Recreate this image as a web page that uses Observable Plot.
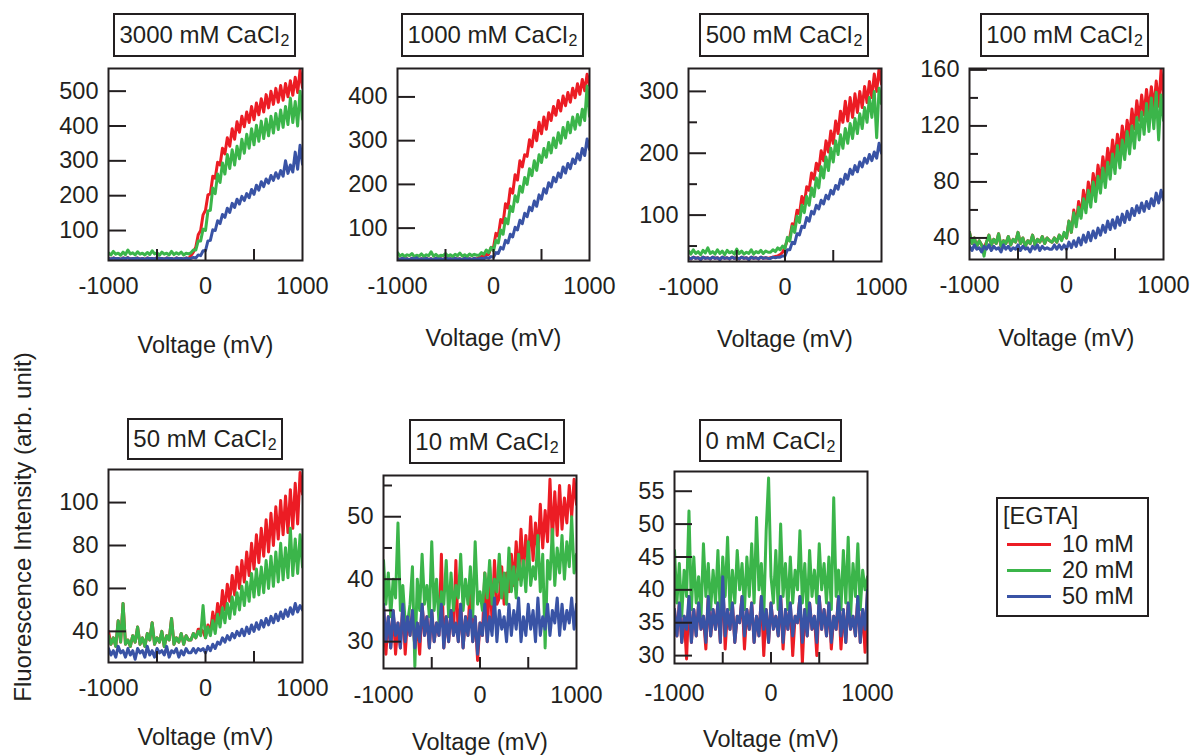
<!DOCTYPE html>
<html><head><meta charset="utf-8">
<script src="https://cdn.jsdelivr.net/npm/d3@7"></script>
<script src="https://cdn.jsdelivr.net/npm/@observablehq/plot@0.6"></script>
<style>
html,body{margin:0;padding:0;background:#fff;}
#fig{position:relative;width:1190px;height:756px;overflow:hidden;font-family:"Liberation Sans",Arial,sans-serif;color:#231f20;}
.title{position:absolute;box-sizing:border-box;border:2px solid #231f20;display:flex;align-items:center;justify-content:center;font-size:24px;line-height:1;white-space:nowrap;background:#fff;}
.title .sub{font-size:16px;position:relative;top:6px;margin-left:1px;}
.panel{position:absolute;}
.panel svg{max-width:none;display:block;}
#ylab{position:absolute;left:23px;top:527px;transform:translate(-50%,-50%) rotate(-90deg);font-size:24px;line-height:1;white-space:nowrap;}
#legend{position:absolute;box-sizing:border-box;border:2px solid #231f20;}
.lgtxt{position:absolute;font-size:23.5px;line-height:1;white-space:nowrap;}
.lgsw{position:absolute;height:2.5px;width:44px;}
</style>
</head><body>
<div id="fig"></div>
<script>
// ---------- data ----------
const voltage = [-1000,-975,-950,-925,-900,-875,-850,-825,-800,-775,-750,-725,-700,-675,-650,-625,-600,-575,-550,-525,-500,-475,-450,-425,-400,-375,-350,-325,-300,-275,-250,-225,-200,-175,-150,-125,-100,-75,-50,-25,0,25,50,75,100,125,150,175,200,225,250,275,300,325,350,375,400,425,450,475,500,525,550,575,600,625,650,675,700,725,750,775,800,825,850,875,900,925,950,975,1000];

const caConc = [3000, 1000, 500, 100, 50, 10, 0];
const egtaLabels = ["10 mM", "20 mM", "50 mM"];
const egtaColors = ["#ec1c24", "#3bb54a", "#3953a5"];
const xTickLabels = [-1000, 0, 1000];
const xTickMarks = [-500, 0, 500];

const yTicks3000 = [100, 200, 300, 400, 500];
const yTicks1000 = [100, 200, 300, 400];
const yTicks500 = [100, 200, 300], yMinor500 = [50, 150, 250];
const yTicks100 = [40, 80, 120, 160], yMinor100 = [60, 100, 140];
const yTicks50 = [40, 60, 80, 100];
const yTicks10 = [30, 40, 50], yMinor10 = [35, 45, 55];
const yTicks0 = [30, 35, 40, 45, 50, 55];

const ca3000_egta10 = [20,18,21,19,20,17,21,19,22,18,20,19,21,18,20,17,21,19,20,18,22,19,20,18,21,19,20,17,21,19,20,18,21,19,28,38,52,88,100,145,158,202,205,256,250,296,288,336,320,366,342,392,362,412,382,428,398,440,410,456,418,466,432,478,440,490,452,500,462,508,468,516,474,522,484,530,488,540,496,560,510];
const ca3000_egta20 = [36,30,40,32,35,29,38,31,44,33,36,30,39,32,35,30,37,31,42,33,36,29,38,32,35,30,40,31,36,32,38,30,35,33,36,44,44,70,70,104,100,156,158,222,206,262,238,294,262,318,278,332,288,342,306,362,322,376,336,392,346,402,356,414,364,420,372,428,380,436,390,446,396,456,404,480,410,470,400,500,420];
const ca3000_egta50 = [20,18,21,19,20,17,21,19,22,18,20,19,21,18,20,17,21,19,20,18,22,19,20,18,21,19,20,17,21,19,20,18,21,19,20,23,21,30,28,42,42,70,72,102,100,128,120,146,138,164,152,178,166,190,176,198,186,206,194,218,204,230,216,240,226,248,236,258,244,266,250,272,256,300,264,288,268,325,276,345,290];

const ca1000_egta10 = [30,28,31,29,30,27,31,29,32,28,30,29,31,28,30,27,31,29,30,28,32,29,30,28,31,29,30,27,31,29,30,28,31,29,33,35,36,40,40,56,56,88,82,120,112,156,146,190,180,222,210,254,240,268,264,302,286,324,300,342,316,354,326,364,346,378,358,392,368,402,380,410,388,420,398,430,406,440,414,452,426];
const ca1000_egta20 = [44,36,40,35,39,37,42,35,38,36,41,35,39,37,46,36,40,35,38,37,42,36,39,35,40,37,43,36,39,35,41,37,40,38,38,44,40,50,44,56,48,72,66,96,86,122,110,150,138,174,160,196,182,216,200,236,220,254,232,268,250,282,262,296,272,306,284,318,294,330,306,342,318,354,326,360,336,372,346,425,356];
const ca1000_egta50 = [30,28,31,29,30,27,31,29,32,28,30,29,31,28,30,27,31,29,30,28,32,29,30,28,31,29,30,27,31,29,30,28,31,29,30,31,30,33,31,35,33,44,42,56,52,72,66,86,80,102,96,118,110,134,126,148,140,162,150,176,166,190,180,204,194,216,206,226,216,240,226,248,236,258,248,270,256,282,266,304,280];

const ca500_egta10 = [31,29,32,30,31,28,32,30,31,29,32,30,31,28,32,30,31,29,32,30,31,29,32,30,31,28,32,30,31,29,32,30,31,30,31,32,33,34,36,40,48,60,64,86,84,108,102,130,118,146,140,168,158,184,172,204,188,220,202,236,216,252,232,268,250,284,252,290,258,296,266,300,274,308,282,316,290,328,300,337,312];
const ca500_egta20 = [42,37,44,38,41,36,43,39,47,38,41,37,44,38,42,36,43,39,41,37,45,38,42,37,40,38,44,37,41,39,43,38,42,40,40,44,41,47,44,50,46,64,58,82,72,98,88,116,104,130,116,144,130,160,144,178,160,194,172,208,186,220,198,230,208,240,216,248,224,256,232,264,240,274,250,290,258,300,225,305,280];
const ca500_egta50 = [31,29,32,30,31,28,32,30,31,29,32,30,31,28,32,30,31,29,32,30,31,29,32,30,31,28,32,30,31,29,32,30,31,30,30,32,31,32,32,34,34,44,44,56,54,70,68,82,80,96,90,106,102,116,110,124,118,132,126,140,134,148,142,158,150,166,158,174,166,180,170,186,178,192,184,198,188,202,192,216,200];

const ca100_egta10 = [44,36,40,34,38,35,33,37,42,35,39,36,43,34,38,36,41,35,39,37,44,36,40,34,38,36,42,35,39,37,41,36,40,38,37,40,37,42,39,43,40,52,44,60,50,66,56,74,62,80,68,86,74,92,80,98,86,104,92,110,96,114,102,120,106,124,112,132,118,138,124,142,128,146,130,148,132,152,134,160,140];
const ca100_egta20 = [44,36,40,34,38,35,27,37,42,35,39,36,43,34,38,36,41,35,39,37,44,36,40,34,38,36,42,35,39,37,41,36,40,38,37,40,37,42,38,44,40,52,44,58,48,62,54,68,58,74,62,80,66,84,72,90,76,94,82,100,86,106,90,110,96,116,100,120,104,126,110,130,114,136,116,140,118,144,110,142,124];
const ca100_egta50 = [34,31,35,32,33,30,34,32,35,31,34,32,33,30,35,32,34,31,33,32,35,31,34,32,33,30,34,32,35,31,34,32,33,32,32,35,32,35,32,35,32,37,33,38,34,40,35,42,37,44,38,45,40,47,42,49,44,52,46,53,47,55,49,57,51,59,53,61,56,63,58,65,59,66,61,68,63,72,65,74,67];

const ca50_egta10 = [40,34,37,33,45,35,53,34,36,33,38,35,42,34,37,33,39,36,44,34,37,35,40,33,38,36,46,34,37,35,39,34,38,36,36,39,37,41,41,40,37,43,39,49,42,53,46,59,50,62,54,66,57,70,60,73,63,77,66,81,69,85,72,88,75,92,77,95,80,98,83,101,85,103,86,106,88,109,90,114,104];
const ca50_egta20 = [38,34,37,33,45,35,53,34,36,33,38,35,42,34,37,33,39,36,44,34,37,35,40,33,38,36,46,34,37,35,39,34,38,36,36,39,37,40,38,52,37,42,38,45,39,48,42,51,44,53,46,56,48,58,50,61,52,63,54,67,56,69,57,70,58,73,60,75,61,77,63,81,64,79,65,88,66,83,67,85,70];
const ca50_egta50 = [32,29,31,28,33,30,31,28,32,29,31,27,32,30,31,28,33,29,31,28,32,30,31,29,33,28,31,30,32,28,31,29,32,30,30,32,30,32,31,32,30,33,31,34,32,35,34,37,35,38,36,39,37,40,38,41,38,42,39,43,40,44,41,45,42,46,43,47,44,48,45,49,46,50,47,51,48,53,49,52,50];

const ca10_egta10 = [36,28,34,29,35,28,33,29,36,28,34,31,35,29,33,28,36,31,34,29,35,30,33,31,44,29,34,30,35,31,43,30,36,29,34,31,40,30,34,27,33,31,41,30,42,33,43,36,37,42,36,41,38,44,39,46,40,48,41,47,42,50,43,49,44,52,45,51,46,56,46,54,47,55,48,53,49,55,50,56,52];
const ca10_egta20 = [43,36,41,34,40,37,49,35,39,33,33,36,42,26,40,35,44,36,39,34,46,35,40,33,38,36,43,34,41,35,39,37,44,35,40,36,42,34,46,36,38,35,41,37,43,36,40,38,44,37,41,36,45,38,42,37,44,39,43,38,46,39,42,40,47,38,44,29,43,40,48,39,45,41,47,40,46,42,50,41,44];
const ca10_egta50 = [36,30,34,29,35,31,33,29,36,30,34,31,35,29,33,30,36,31,34,29,35,30,33,31,36,29,34,30,35,31,33,30,36,29,34,31,35,30,34,28,33,31,36,30,34,31,37,30,35,32,34,30,36,31,35,32,37,30,34,31,36,32,35,30,37,31,34,32,36,31,35,33,37,31,36,32,35,33,37,32,36];

const ca0_egta10 = [37,33,38,32,36,29.5,39,32,37,33,38,34,36,31,39,33,37,34,38,32,42,31,37,34,38,32,36,35,39,31,37,34,38,32,36,33,39,30,37,32,38,34,36,33,39,31,37,34,38,30,36,35,39,28.9,37,33,38,34,36,30,39,34,37,33,38,31,36,34,39,31,37,32,38,34,36,33,39,32,37,30.5,40];
const ca0_egta20 = [46,38,44,36,43,39,52,37,45,38,42,36,47,39,44,37,43,38,46,36,45,39,48,37,43,38,46,40,44,37,45,39,47,38,51,40,44,36,49,57,42,38,46,37,50,39,44,37,45,38,43,40,49,38,44,36,46,39,43,38,47,40,44,38,45,37,54,39,43,37,46,38,48,36,44,39,47,37,43,40,42];
const ca0_egta50 = [37,33,38,32,36,34,39,32,37,33,38,34,36,32,39,33,37,34,38,32,42,33,37,34,38,32,36,35,39,33,37,34,38,32,36,33,39,34,37,32,38,34,36,33,39,32,37,34,38,33,36,35,39,32,37,33,38,34,36,32,39,34,37,33,38,32,36,34,39,33,37,32,38,34,36,33,39,32,37,34,40];

// ---------- layout ----------
const panels = [
  {c: caConc[0], s: [ca3000_egta10, ca3000_egta20, ca3000_egta50], L:108, R:302, T:68, B:260, yd:[14,565], major:yTicks3000, minor:[], box:[113,13,183,44], xlab:85, xpad:17},
  {c: caConc[1], s: [ca1000_egta10, ca1000_egta20, ca1000_egta50], L:397, R:589, T:68, B:260, yd:[26,465], major:yTicks1000, minor:[], box:[401,13,183,44], xlab:78, xpad:17},
  {c: caConc[2], s: [ca500_egta10, ca500_egta20, ca500_egta50], L:688, R:881, T:68, B:261, yd:[25,337], major:yTicks500, minor:yMinor500, box:[699,13,170,44], xlab:78, xpad:17},
  {c: caConc[3], s: [ca100_egta10, ca100_egta20, ca100_egta50], L:969, R:1163, T:68, B:259, yd:[24.6,161], major:yTicks100, minor:yMinor100, box:[980,13,169,44], xlab:79, xpad:17},
  {c: caConc[4], s: [ca50_egta10, ca50_egta20, ca50_egta50], L:108, R:302, T:469, B:662, yd:[25.5,115.4], major:yTicks50, minor:[], box:[127,418,156,42], xlab:75, xpad:17},
  {c: caConc[5], s: [ca10_egta10, ca10_egta20, ca10_egta50], L:383, R:576, T:475, B:668, yd:[25.7,56.6], major:yTicks10, minor:yMinor10, box:[409,419,156,45], xlab:74, xpad:18},
  {c: caConc[6], s: [ca0_egta10, ca0_egta20, ca0_egta50], L:674, R:867, T:471, B:663, yd:[28.8,58], major:yTicks0, minor:[], box:[699,419,143,43], xlab:76, xpad:21}
];

const fig = document.getElementById("fig");
const ink = "#231f20";
const font = '"Liberation Sans", Arial, sans-serif';
const mL = 80, mR = 27, mT = 10, mB = 100;

for (const p of panels) {
  p.s.forEach((arr, k) => { if (arr.length !== voltage.length) throw new Error(`series ${p.c}/${egtaLabels[k]} has ${arr.length}`); });
  const iw = p.R - p.L, ih = p.B - p.T;
  const rows = [];
  p.s.forEach((arr, k) => arr.forEach((y, i) => rows.push({v: voltage[i], y, egta: egtaLabels[k]})));
  const chart = Plot.plot({
    width: iw + mL + mR, height: ih + mT + mB,
    marginLeft: mL, marginRight: mR, marginTop: mT, marginBottom: mB,
    style: {fontFamily: font, background: "transparent", overflow: "visible", color: ink},
    x: {domain: [-1000, 1000], label: null},
    y: {domain: p.yd, label: null},
    color: {domain: egtaLabels, range: egtaColors},
    marks: [
      Plot.line(rows, {x: "v", y: "y", z: "egta", stroke: "egta", strokeWidth: 3, strokeLinejoin: "round", clip: true}),
      Plot.ruleY(p.major, {y: d => d, insetRight: iw - 18, stroke: ink, strokeWidth: 2}),
      Plot.ruleY(p.minor, {y: d => d, insetRight: iw - 9, stroke: ink, strokeWidth: 2}),
      Plot.ruleX(xTickMarks, {x: d => d, insetTop: ih - 11, stroke: ink, strokeWidth: 2}),
      Plot.frame({stroke: ink, strokeWidth: 2}),
      Plot.axisY(p.major, {tickSize: 0, tickPadding: 10, fontSize: 23.5, tickFormat: d => String(d), label: null}),
      Plot.axisX(xTickLabels, {tickSize: 0, tickPadding: p.xpad, fontSize: 23.5, tickFormat: d => String(d), label: null}),
      Plot.text(["Voltage (mV)"], {frameAnchor: "bottom", dy: p.xlab, lineAnchor: "middle", fontSize: 23.5, fill: ink})
    ]
  });
  const wrap = document.createElement("div");
  wrap.className = "panel";
  wrap.style.left = (p.L - mL) + "px";
  wrap.style.top = (p.T - mT) + "px";
  wrap.appendChild(chart);
  fig.appendChild(wrap);

  const t = document.createElement("div");
  t.className = "title";
  t.style.left = p.box[0] + "px"; t.style.top = p.box[1] + "px";
  t.style.width = p.box[2] + "px"; t.style.height = p.box[3] + "px";
  t.innerHTML = `<span>${p.c} mM CaCl</span><span class="sub">2</span>`;
  fig.appendChild(t);
}

// y-axis title
const yl = document.createElement("div");
yl.id = "ylab";
yl.textContent = "Fluorescence Intensity (arb. unit)";
fig.appendChild(yl);

// legend
const lg = document.createElement("div");
lg.id = "legend";
Object.assign(lg.style, {left: "996px", top: "497px", width: "153px", height: "120px"});
fig.appendChild(lg);
const head = document.createElement("div");
head.className = "lgtxt";
Object.assign(head.style, {left: "5px", top: "6px"});
head.textContent = "[EGTA]";
lg.appendChild(head);
egtaLabels.forEach((lab, k) => {
  const sw = document.createElement("div");
  sw.className = "lgsw";
  Object.assign(sw.style, {left: "9px", top: (44 + 26 * k) + "px", background: egtaColors[k]});
  lg.appendChild(sw);
  const tx = document.createElement("div");
  tx.className = "lgtxt";
  Object.assign(tx.style, {left: "64px", top: (34 + 26 * k) + "px"});
  tx.textContent = lab;
  lg.appendChild(tx);
});
</script>
</body></html>
